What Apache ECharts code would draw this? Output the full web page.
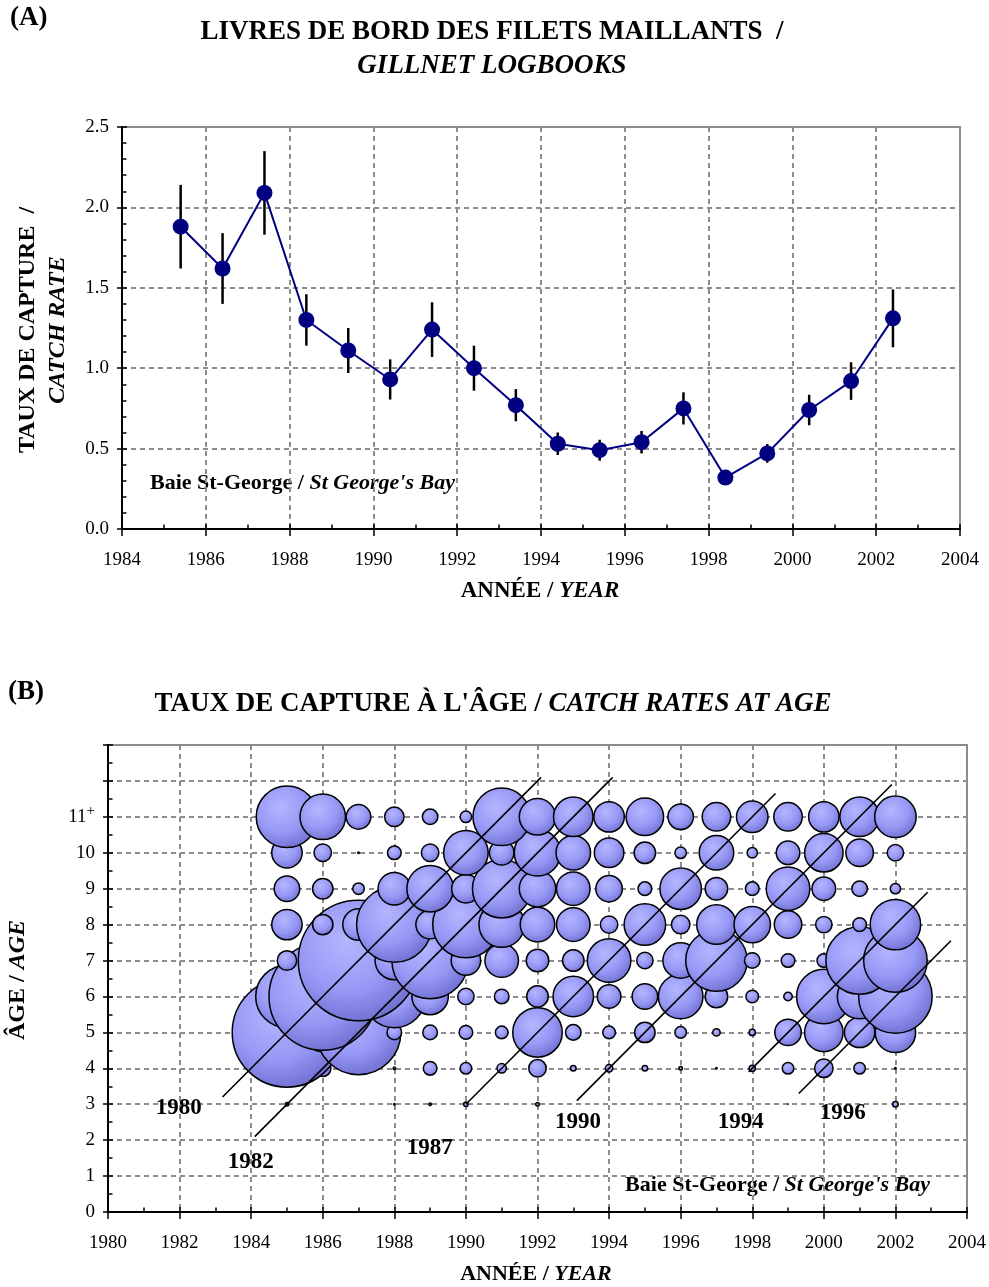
<!DOCTYPE html>
<html>
<head>
<meta charset="utf-8">
<script src="https://cdn.jsdelivr.net/npm/echarts@6/dist/echarts.min.js"></script>
<style>
  html, body { margin: 0; padding: 0; background: #fff; }
  #chart { width: 989px; height: 1287px; }
</style>
</head>
<body>
<div id="chart"></div>
<script>
// ---------------- Panel A: gillnet logbook catch rates ----------------
const logYears = [1985, 1986, 1987, 1988, 1989, 1990, 1991, 1992, 1993,
                  1994, 1995, 1996, 1997, 1998, 1999, 2000, 2001, 2002];
const catchRate = [1.88, 1.62, 2.09, 1.30, 1.11, 0.93, 1.24, 1.00, 0.77,
                   0.53, 0.49, 0.54, 0.75, 0.32, 0.47, 0.74, 0.92, 1.31];
const catchRateHalfCI = [0.26, 0.22, 0.26, 0.16, 0.14, 0.125, 0.17, 0.14, 0.10,
                         0.07, 0.065, 0.07, 0.10, 0.04, 0.058, 0.095, 0.117, 0.18];
// each yearly value is plotted part-way through its season
const SEASON_OFFSET = 0.4;

// ---------------- Panel B: catch rates at age ----------------
const ageYears = [1985, 1986, 1987, 1988, 1989, 1990, 1991, 1992, 1993,
                  1994, 1995, 1996, 1997, 1998, 1999, 2000, 2001, 2002];
const atAge3  = [0.25, 0, 0, 0.09, 0.16, 0.36, 0, 0.25, 0, 0, 0, 0, 0, 0, 0.04, 0, 0, 0.5];
const atAge4  = [6.3, 3.2, 1.0, 0.16, 2.3, 1.7, 1.2, 3.6, 0.5, 0.8, 0.5, 0.25, 0.09, 0.6, 1.7, 4.0, 1.7, 0.09];
const atAge5  = [123.2, 16.0, 74.0, 2.6, 2.6, 2.3, 2.0, 26.0, 2.9, 2.0, 4.8, 1.7, 0.8, 0.6, 7.8, 16.0, 10.2, 17.6];
const atAge6  = [41.0, 118.8, 20.3, 41.0, 14.4, 3.2, 2.6, 5.3, 17.6, 6.3, 7.3, 21.2, 5.8, 2.0, 1.0, 31.4, 21.2, 56.3];
const atAge7  = [4.4, 16.0, 148.8, 16.0, 60.8, 9.6, 12.3, 5.8, 5.3, 20.3, 3.2, 13.7, 39.7, 2.9, 2.3, 2.3, 47.6, 42.3];
const atAge8  = [10.2, 4.8, 10.9, 59.3, 9.0, 46.2, 22.1, 13.0, 12.3, 3.6, 18.5, 4.0, 16.8, 14.4, 8.4, 3.2, 2.3, 27.0];
const atAge9  = [7.3, 4.8, 1.7, 11.6, 23.0, 9.0, 36.0, 14.4, 12.3, 7.8, 2.3, 18.5, 5.8, 2.3, 20.3, 6.3, 2.9, 1.4];
const atAge10 = [10.2, 3.6, 0.09, 2.3, 3.6, 21.2, 6.8, 23.0, 13.0, 9.6, 5.3, 1.7, 13.0, 1.4, 6.3, 16.0, 8.4, 3.2];
const atAge11 = [39.7, 22.1, 6.8, 4.4, 2.9, 1.7, 34.8, 14.4, 16.8, 10.2, 15.2, 7.3, 9.0, 10.9, 9.0, 10.2, 16.8, 18.5];
const ageRows = [[3, atAge3], [4, atAge4], [5, atAge5], [6, atAge6], [7, atAge7],
                 [8, atAge8], [9, atAge9], [10, atAge10], [11, atAge11]];

// year-classes followed along the diagonal, with the ages each line spans
const cohorts = [1980, 1982, 1987, 1990, 1994, 1996];
const cohortAgeSpan = [[3.2, 12.1], [2.1, 12.1], [3.0, 11.65], [3.1, 11.9], [3.9, 8.9], [3.3, 7.55]];

// tick labels for the age axis (last age group is plus group)
const ageTickLabels = ['0', '1', '2', '3', '4', '5', '6', '7', '8', '9', '10', '11{p|+}'];

// ---------------- layout & style ----------------
const SERIF = '"Liberation Serif", "Times New Roman", serif';
const GRID_A = { left: 122, top: 127, width: 838, height: 402 };
const GRID_B = { left: 108, top: 745, width: 859, height: 467 };
const GRID_LINE = { color: '#8c8c8c', width: 2, type: [5, 4] };
const BUBBLE_K = 10;          // bubble diameter per sqrt(rate)
const BUBBLE_BORDER = 1.5;
// where each year-class label sits (year, age)
const cohortLabelAt = [[1981.98, 2.9], [1983.99, 1.4], [1988.99, 1.78],
                       [1993.13, 2.5], [1997.68, 2.5], [2000.53, 2.75]];

const bubbleFill = {
  type: 'radial', x: 0.4, y: 0.35, r: 0.75,
  colorStops: [
    { offset: 0, color: '#b4b6ff' },
    { offset: 0.55, color: '#9697f4' },
    { offset: 1, color: '#6464c6' }
  ]
};

const rich = (size) => ({
  b: { fontFamily: SERIF, fontWeight: 'bold', fontSize: size, fill: '#000' },
  bi: { fontFamily: SERIF, fontWeight: 'bold', fontStyle: 'italic', fontSize: size, fill: '#000' }
});

function mainAxis(grid, min, max, interval, labelFmt, isX, extra) {
  return Object.assign({
    gridIndex: grid, type: 'value', min, max, interval,
    position: isX ? 'bottom' : 'left',
    axisLine: { show: true, onZero: false, lineStyle: { color: '#000', width: 2 } },
    axisTick: { show: true, inside: false, length: isX ? 7 : 5, lineStyle: { color: '#000', width: 1.5 } },
    axisLabel: { color: '#000', fontFamily: SERIF, fontSize: 19, margin: isX ? 22 : 13, formatter: labelFmt },
    splitLine: { show: true, lineStyle: GRID_LINE }
  }, extra || {});
}
function innerTickAxis(grid, min, max, interval, minorSplit, isX) {
  return {
    gridIndex: grid, type: 'value', min, max, interval,
    position: isX ? 'bottom' : 'left',
    axisLine: { show: false, onZero: false },
    axisTick: { show: true, inside: true, length: 5, lineStyle: { color: '#000', width: 1.5 } },
    minorTick: { show: true, splitNumber: minorSplit, length: 4.5, lineStyle: { color: '#000', width: 1.5 } },
    axisLabel: { show: false },
    splitLine: { show: false }
  };
}

const series = [];

// Panel A: confidence bars
series.push({
  type: 'custom', xAxisIndex: 0, yAxisIndex: 0, z: 2,
  data: logYears.map((y, i) => [y + SEASON_OFFSET, catchRate[i], catchRateHalfCI[i]]),
  encode: { x: 0, y: 1 },
  renderItem(params, api) {
    const x = api.value(0), v = api.value(1), e = api.value(2);
    const hi = api.coord([x, v + e]), lo = api.coord([x, v - e]);
    return { type: 'line', shape: { x1: hi[0], y1: hi[1], x2: lo[0], y2: lo[1] },
             style: { stroke: '#000', lineWidth: 2.5 } };
  }
});
// Panel A: catch-rate line
series.push({
  type: 'line', xAxisIndex: 0, yAxisIndex: 0, z: 3,
  data: logYears.map((y, i) => [y + SEASON_OFFSET, catchRate[i]]),
  symbol: 'circle', symbolSize: 16, showSymbol: true,
  lineStyle: { color: '#000080', width: 2 },
  itemStyle: { color: '#000080' }
});

// Panel B: one bubble layer per age, older ages drawn over younger ones
ageRows.forEach(([age, rates]) => {
  series.push({
    type: 'scatter', xAxisIndex: 2, yAxisIndex: 2, z: 2,
    data: ageYears.map((y, i) => [y, age, rates[i]]).filter(d => d[2] > 0),
    symbol: 'circle',
    symbolSize: (val) => Math.max(0.5, BUBBLE_K * Math.sqrt(val[2]) - BUBBLE_BORDER),
    itemStyle: { color: bubbleFill, borderColor: '#000', borderWidth: BUBBLE_BORDER, opacity: 1 },
    emphasis: { disabled: true }
  });
});

// Panel B: year-class diagonals
cohorts.forEach((c, i) => {
  const [a0, a1] = cohortAgeSpan[i];
  series.push({
    type: 'line', xAxisIndex: 2, yAxisIndex: 2, z: 4,
    data: [[c + a0, a0], [c + a1, a1]],
    symbol: 'none', lineStyle: { color: '#000', width: 1.6 }
  });
});
// Panel B: year-class labels
series.push({
  type: 'custom', xAxisIndex: 2, yAxisIndex: 2, z: 5,
  data: cohorts.map((c, i) => [cohortLabelAt[i][0], cohortLabelAt[i][1], c]),
  encode: { x: 0, y: 1 },
  renderItem(params, api) {
    const p = api.coord([api.value(0), api.value(1)]);
    return { type: 'text', x: p[0], y: p[1],
             style: { text: String(api.value(2)), font: 'bold 23px ' + SERIF, fill: '#000',
                      align: 'center', verticalAlign: 'middle' } };
  }
});

const option = {
  animation: false,
  backgroundColor: '#fff',
  grid: [
    Object.assign({ show: true, borderColor: '#8c8c8c', borderWidth: 2, backgroundColor: 'transparent' }, GRID_A),
    Object.assign({ show: true, borderColor: '#8c8c8c', borderWidth: 2, backgroundColor: 'transparent' }, GRID_B)
  ],
  xAxis: [
    mainAxis(0, 1984, 2004, 2, v => String(v), true),
    innerTickAxis(0, 1984, 2004, 2, 2, true),
    mainAxis(1, 1980, 2004, 2, v => String(v), true),
    innerTickAxis(1, 1980, 2004, 2, 2, true)
  ],
  yAxis: [
    mainAxis(0, 0, 2.5, 0.5, v => v.toFixed(1), false),
    innerTickAxis(0, 0, 2.5, 0.5, 5, false),
    mainAxis(1, 0, 13, 1, v => (v < ageTickLabels.length ? ageTickLabels[v] : ''), false, {
      axisLabel: {
        color: '#000', fontFamily: SERIF, fontSize: 19, margin: 13,
        formatter: v => (v < ageTickLabels.length ? ageTickLabels[v] : ''),
        rich: { p: { fontFamily: SERIF, fontSize: 15, color: '#000', padding: [0, 0, 12, 0] } }
      }
    }),
    innerTickAxis(1, 0, 13, 1, 2, false)
  ],
  series,
  graphic: [
    { type: 'text', x: 10, y: 18, style: { text: '(A)', font: 'bold 27px ' + SERIF, fill: '#000', verticalAlign: 'middle' } },
    { type: 'text', x: 492, y: 49, style: {
        text: '{b|LIVRES DE BORD DES FILETS MAILLANTS  /}\n{bi|GILLNET LOGBOOKS}',
        rich: rich(27), align: 'center', verticalAlign: 'middle', lineHeight: 34 } },
    { type: 'text', x: 43, y: 330, rotation: Math.PI / 2, style: {
        text: '{b|TAUX DE CAPTURE  /}\n{bi|CATCH RATE}',
        rich: rich(24), align: 'center', verticalAlign: 'middle', lineHeight: 30 } },
    { type: 'text', x: 540, y: 591, style: {
        text: '{b|ANNÉE / }{bi|YEAR}', rich: rich(23), align: 'center', verticalAlign: 'middle' } },
    { type: 'text', x: 150, y: 483, style: {
        text: '{b|Baie St-George / }{bi|St George\'s Bay}', rich: rich(22), align: 'left', verticalAlign: 'middle' } },

    { type: 'text', x: 8, y: 692, style: { text: '(B)', font: 'bold 27px ' + SERIF, fill: '#000', verticalAlign: 'middle' } },
    { type: 'text', x: 493, y: 704, style: {
        text: '{b|TAUX DE CAPTURE À L\'ÂGE / }{bi|CATCH RATES AT AGE}',
        rich: rich(27), align: 'center', verticalAlign: 'middle' } },
    { type: 'text', x: 18, y: 980, rotation: Math.PI / 2, style: {
        text: '{b|ÂGE / }{bi|AGE}', rich: rich(24), align: 'center', verticalAlign: 'middle' } },
    { type: 'text', x: 536, y: 1274, style: {
        text: '{b|ANNÉE / }{bi|YEAR}', rich: rich(22), align: 'center', verticalAlign: 'middle' } },
    { type: 'text', x: 930, y: 1185, style: {
        text: '{b|Baie St-George / }{bi|St George\'s Bay}', rich: rich(22), align: 'right', verticalAlign: 'middle' } }
  ]
};

const chart = echarts.init(document.getElementById('chart'), null, { renderer: 'canvas' });
chart.setOption(option);
</script>
</body>
</html>
